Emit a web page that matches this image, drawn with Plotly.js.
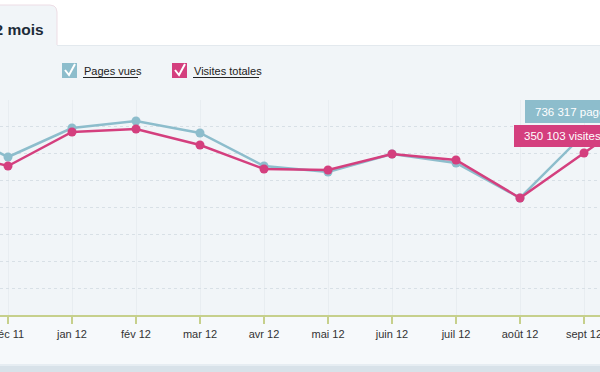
<!DOCTYPE html>
<html>
<head>
<meta charset="utf-8">
<script src="https://cdn.plot.ly/plotly-3.0.1.min.js"></script>
<style>html,body{margin:0;padding:0;background:#fff;}#chart{width:600px;height:372px;}</style>
</head>
<body>
<div id="chart"></div>
<script>
// ---- data ----
const months = ['nov 11','déc 11','jan 12','fév 12','mar 12','avr 12','mai 12','juin 12','juil 12','août 12','sept 12','oct 12'];
const pagesVues = [773000, 642700, 760700, 789200, 740400, 606100, 581700, 655000, 618300, 476000, 736317, 842000];
const visitesTotales = [356600, 322000, 395500, 402000, 367400, 315500, 313300, 348000, 335000, 252800, 350103, 447000];
const seriesNames = ['Pages vues', 'Visites totales'];
const tabTitle = '12 mois';
const tipPages = '736 317 pages vues';
const tipVisites = '350 103 visites totales';

// ---- layout helpers (pixel -> paper) ----
const W = 600, H = 372, T = 100, B = 315;
const X = px => px / W;
const Y = py => (B - py) / (B - T);
const TEAL = '#8dbdcc', MAG = '#d43f7e';

function rect(x0, y0, x1, y1, fill, layer, line) {
  return {type:'rect', xref:'paper', yref:'paper', x0:X(x0), x1:X(x1), y0:Y(y1), y1:Y(y0),
          fillcolor:fill, line:line || {width:0}, layer:layer || 'below'};
}
function path(pts, opts) {
  let d = pts.map((p,i) => (i ? 'L' : 'M') + X(p[0]) + ',' + Y(p[1])).join(' ');
  if (opts.closed) d += ' Z';
  return Object.assign({type:'path', xref:'paper', yref:'paper', path:d}, opts.s);
}

const shapes = [
  // panel background
  rect(-5, 45, 605, 316, '#f1f5f8'),
  rect(-5, 316, 605, 365, '#f6f9fb'),
  rect(-5, 364, 605, 366, '#e6edf2'),
  rect(-5, 366, 605, 380, '#d8e2e9'),
  // top separator line
  path([[57,45.5],[605,45.5]], {s:{line:{color:'#e3e9ee', width:1}, layer:'below'}}),
  // tab
  path([[-5,46],[-5,5],[50,5],[54,6],[56,8],[57,12],[57,46]], {closed:true, s:{fillcolor:'#f1f5f8', line:{width:0}, layer:'below'}}),
  path([[-5,5],[50,5],[54,6],[56,8],[57,12],[57,45]], {s:{line:{color:'#eddde5', width:1}, layer:'below'}}),
  // legend checkboxes
  rect(62, 63, 77, 78, TEAL, 'above'),
  path([[65,70],[69,75],[75,64]], {s:{line:{color:'#ffffff', width:2}, layer:'above'}}),
  rect(172, 63, 187, 78, MAG, 'above'),
  path([[175,70],[179,75],[185,64]], {s:{line:{color:'#ffffff', width:2}, layer:'above'}}),
  // legend underlines
  path([[83,77.5],[138,77.5]], {s:{line:{color:'#222', width:1}, layer:'above'}}),
  path([[193,77.5],[259,77.5]], {s:{line:{color:'#222', width:1}, layer:'above'}}),
  // tooltips
  rect(525, 100, 620, 123, TEAL, 'above'),
  rect(514, 125, 620, 147, MAG, 'above')
];

const annotations = [
  {xref:'paper', yref:'paper', x:X(46), y:Y(29), xanchor:'right', yanchor:'middle', showarrow:false,
   text:'<b>' + tabTitle + '</b>', font:{family:'Liberation Sans, Arial, sans-serif', size:15.5, color:'#1d2b38'}},
  {xref:'paper', yref:'paper', x:X(82), y:Y(71), xanchor:'left', yanchor:'middle', showarrow:false,
   text:seriesNames[0], font:{family:'Liberation Sans, Arial, sans-serif', size:11, color:'#222'}},
  {xref:'paper', yref:'paper', x:X(192), y:Y(71), xanchor:'left', yanchor:'middle', showarrow:false,
   text:seriesNames[1], font:{family:'Liberation Sans, Arial, sans-serif', size:11, color:'#222'}},
  {xref:'paper', yref:'paper', x:X(533), y:Y(111.5), xanchor:'left', yanchor:'middle', showarrow:false,
   text:tipPages, font:{family:'Liberation Sans, Arial, sans-serif', size:11.5, color:'#ffffff'}},
  {xref:'paper', yref:'paper', x:X(522), y:Y(136), xanchor:'left', yanchor:'middle', showarrow:false,
   text:tipVisites, font:{family:'Liberation Sans, Arial, sans-serif', size:11.5, color:'#ffffff'}}
];

const traces = [
  {x:months, y:pagesVues, name:seriesNames[0], type:'scatter', mode:'lines+markers',
   line:{color:TEAL, width:2.5}, marker:{color:TEAL, size:9}, yaxis:'y'},
  {x:months, y:visitesTotales, name:seriesNames[1], type:'scatter', mode:'lines+markers',
   line:{color:MAG, width:2.5}, marker:{color:MAG, size:9}, yaxis:'y2'}
];

const layout = {
  width:W, height:H,
  margin:{l:0, r:0, t:T, b:H-B, pad:0},
  paper_bgcolor:'#ffffff', plot_bgcolor:'rgba(0,0,0,0)',
  showlegend:false,
  xaxis:{type:'category', range:[0.875, 10.25], showgrid:true, gridcolor:'#e8edf1', gridwidth:1,
         showline:true, linecolor:'#c6d08c', linewidth:2, ticks:'outside', ticklen:7, tickwidth:1.5,
         tickcolor:'#c6d08c', ticklabelstandoff:1,
         tickfont:{family:'Liberation Sans, Arial, sans-serif', size:11, color:'#333'}, zeroline:false, fixedrange:true},
  yaxis:{range:[0, 874600], tick0:0, dtick:109325, showgrid:true, gridcolor:'#d8e0e6', griddash:'dot', gridwidth:1,
         showticklabels:false, zeroline:false, showline:false, ticks:''},
  yaxis2:{range:[0, 464600], overlaying:'y', side:'right', showgrid:false, showticklabels:false,
          zeroline:false, showline:false, ticks:''},
  shapes:shapes, annotations:annotations,
  hovermode:false
};

Plotly.newPlot('chart', traces, layout, {displayModeBar:false, staticPlot:true});
</script>
</body>
</html>
